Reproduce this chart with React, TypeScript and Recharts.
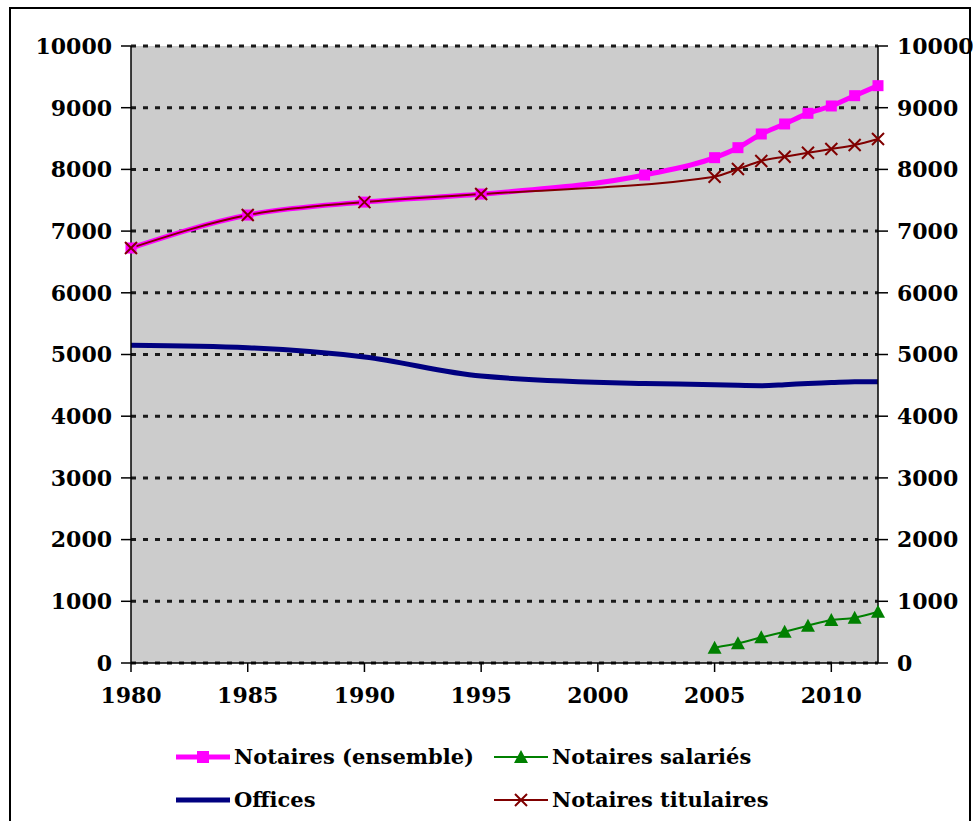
import React from "react";
import {
  LineChart,
  Line,
  XAxis,
  YAxis,
  CartesianGrid,
} from "recharts";

// Years for each series
const ensembleYears = [1980, 1985, 1990, 1995, 2002, 2005, 2006, 2007, 2008, 2009, 2010, 2011, 2012];
const ensembleValues = [6726, 7260, 7470, 7600, 7909, 8190, 8352, 8574, 8736, 8909, 9028, 9195, 9357];

const titulairesYears = [1980, 1985, 1990, 1995, 2005, 2006, 2007, 2008, 2009, 2010, 2011, 2012];
const titulairesValues = [6726, 7260, 7470, 7600, 7882, 8006, 8136, 8206, 8271, 8330, 8395, 8493];

const salariesYears = [2005, 2006, 2007, 2008, 2009, 2010, 2011, 2012];
const salariesValues = [248, 319, 416, 508, 605, 697, 734, 831];

const officesYears = [1980, 1985, 1990, 1995, 2002, 2005, 2006, 2007, 2008, 2009, 2010, 2011, 2012];
const officesValues = [5150, 5110, 4960, 4650, 4530, 4510, 4500, 4495, 4510, 4530, 4545, 4560, 4560];

const xTicks = [1980, 1985, 1990, 1995, 2000, 2005, 2010];
const yTicks = [0, 1000, 2000, 3000, 4000, 5000, 6000, 7000, 8000, 9000, 10000];

const PINK = "#ff00ff";
const NAVY = "#000080";
const MAROON = "#800000";
const GREEN = "#008000";

const FONT = "'DejaVu Serif', serif";

// merge the series into one row per year
function buildRows() {
  const years = Array.from(
    new Set([...ensembleYears, ...titulairesYears, ...salariesYears, ...officesYears])
  ).sort((a, b) => a - b);
  const pick = (ys: number[], vs: number[], y: number) => {
    const i = ys.indexOf(y);
    return i >= 0 ? vs[i] : null;
  };
  return years.map((year) => ({
    year,
    ensemble: pick(ensembleYears, ensembleValues, year),
    titulaires: pick(titulairesYears, titulairesValues, year),
    salaries: pick(salariesYears, salariesValues, year),
    offices: pick(officesYears, officesValues, year),
  }));
}

const SquareDot = (props: any) => {
  const { cx, cy, value, index } = props;
  if (value == null || cy == null) return <g key={index} />;
  return <rect key={index} x={cx - 5.5} y={cy - 5.5} width={11} height={11} fill={PINK} />;
};

const CrossDot = (props: any) => {
  const { cx, cy, value, index } = props;
  if (value == null || cy == null) return <g key={index} />;
  const r = 6;
  return (
    <path
      key={index}
      d={`M${cx - r},${cy - r}L${cx + r},${cy + r}M${cx - r},${cy + r}L${cx + r},${cy - r}`}
      stroke={MAROON}
      strokeWidth={2}
    />
  );
};

const TriangleDot = (props: any) => {
  const { cx, cy, value, index } = props;
  if (value == null || cy == null) return <g key={index} />;
  return (
    <polygon
      key={index}
      points={`${cx},${cy - 7} ${cx - 7},${cy + 6} ${cx + 7},${cy + 6}`}
      fill={GREEN}
    />
  );
};

function LegendItem({ color, width, marker, label }: { color: string; width: number; marker: string; label: string }) {
  return (
    <div style={{ display: "flex", alignItems: "center" }}>
      <svg width={58} height={20} style={{ marginRight: 2 }}>
        <line x1={2} y1={10} x2={56} y2={10} stroke={color} strokeWidth={width} />
        {marker === "square" && <rect x={23} y={4} width={12} height={12} fill={color} />}
        {marker === "triangle" && <polygon points="29,3 22,16 36,16" fill={color} />}
        {marker === "cross" && (
          <path d="M23,4L35,16M23,16L35,4" stroke={color} strokeWidth={2} />
        )}
      </svg>
      <span>{label}</span>
    </div>
  );
}

export default function App() {
  const rows = buildRows();
  const tickStyle = { fontFamily: FONT, fontWeight: 700, fontSize: 22, fill: "#000" };

  return (
    <div
      style={{
        position: "fixed",
        left: 0,
        top: 0,
        width: 973,
        height: 821,
        overflow: "hidden",
        background: "#fff",
      }}
    >
      <div
        style={{
          position: "absolute",
          left: 9,
          top: 7,
          width: 958,
          height: 840,
          border: "2px solid #000",
        }}
      />
      <div style={{ position: "absolute", left: 0, top: 0 }}>
        <LineChart
          width={973}
          height={821}
          data={rows}
          margin={{ top: 46, right: 0, left: 0, bottom: 0 }}
        >
          <CartesianGrid
            yAxisId="left"
            vertical={false}
            fill="#cccccc"
            stroke="#1a1a1a"
            strokeWidth={3}
            strokeDasharray="5 7"
          />
          <XAxis
            dataKey="year"
            type="number"
            domain={[1980, 2012]}
            ticks={xTicks}
            height={158}
            tick={tickStyle}
            tickSize={9}
            tickMargin={15}
            stroke="#000"
            strokeWidth={1.5}
            interval={0}
          />
          <YAxis
            yAxisId="left"
            domain={[0, 10000]}
            ticks={yTicks}
            width={131}
            tick={tickStyle}
            tickSize={10}
            tickMargin={9}
            stroke="#000"
            strokeWidth={1.5}
            interval={0}
          />
          <YAxis
            yAxisId="right"
            orientation="right"
            domain={[0, 10000]}
            ticks={yTicks}
            width={95}
            tick={tickStyle}
            tickSize={10}
            tickMargin={9}
            stroke="#000"
            strokeWidth={1.5}
            interval={0}
          />
          <Line
            yAxisId="left"
            dataKey="offices"
            type="monotone"
            stroke={NAVY}
            strokeWidth={5}
            dot={false}
            connectNulls
            isAnimationActive={false}
          />
          <Line
            yAxisId="left"
            dataKey="ensemble"
            type="monotone"
            stroke={PINK}
            strokeWidth={5}
            dot={SquareDot}
            activeDot={false}
            connectNulls
            isAnimationActive={false}
          />
          <Line
            yAxisId="left"
            dataKey="titulaires"
            type="monotone"
            stroke={MAROON}
            strokeWidth={2}
            dot={CrossDot}
            activeDot={false}
            connectNulls
            isAnimationActive={false}
          />
          {/* same 0–10000 scale, bound to the right axis so it gets ticks */}
          <Line
            yAxisId="right"
            dataKey="salaries"
            type="monotone"
            stroke={GREEN}
            strokeWidth={2}
            dot={TriangleDot}
            activeDot={false}
            connectNulls
            isAnimationActive={false}
          />
        </LineChart>
      </div>
      <div
        style={{
          position: "absolute",
          left: 174,
          top: 742,
          fontFamily: FONT,
          fontWeight: 700,
          fontSize: 21,
          color: "#000",
          display: "grid",
          gridTemplateColumns: "318px auto",
          rowGap: 13,
          lineHeight: "30px",
        }}
      >
        <LegendItem color={PINK} width={5} marker="square" label="Notaires (ensemble)" />
        <LegendItem color={GREEN} width={2} marker="triangle" label="Notaires salariés" />
        <LegendItem color={NAVY} width={5} marker="none" label="Offices" />
        <LegendItem color={MAROON} width={2} marker="cross" label="Notaires titulaires" />
      </div>
    </div>
  );
}
